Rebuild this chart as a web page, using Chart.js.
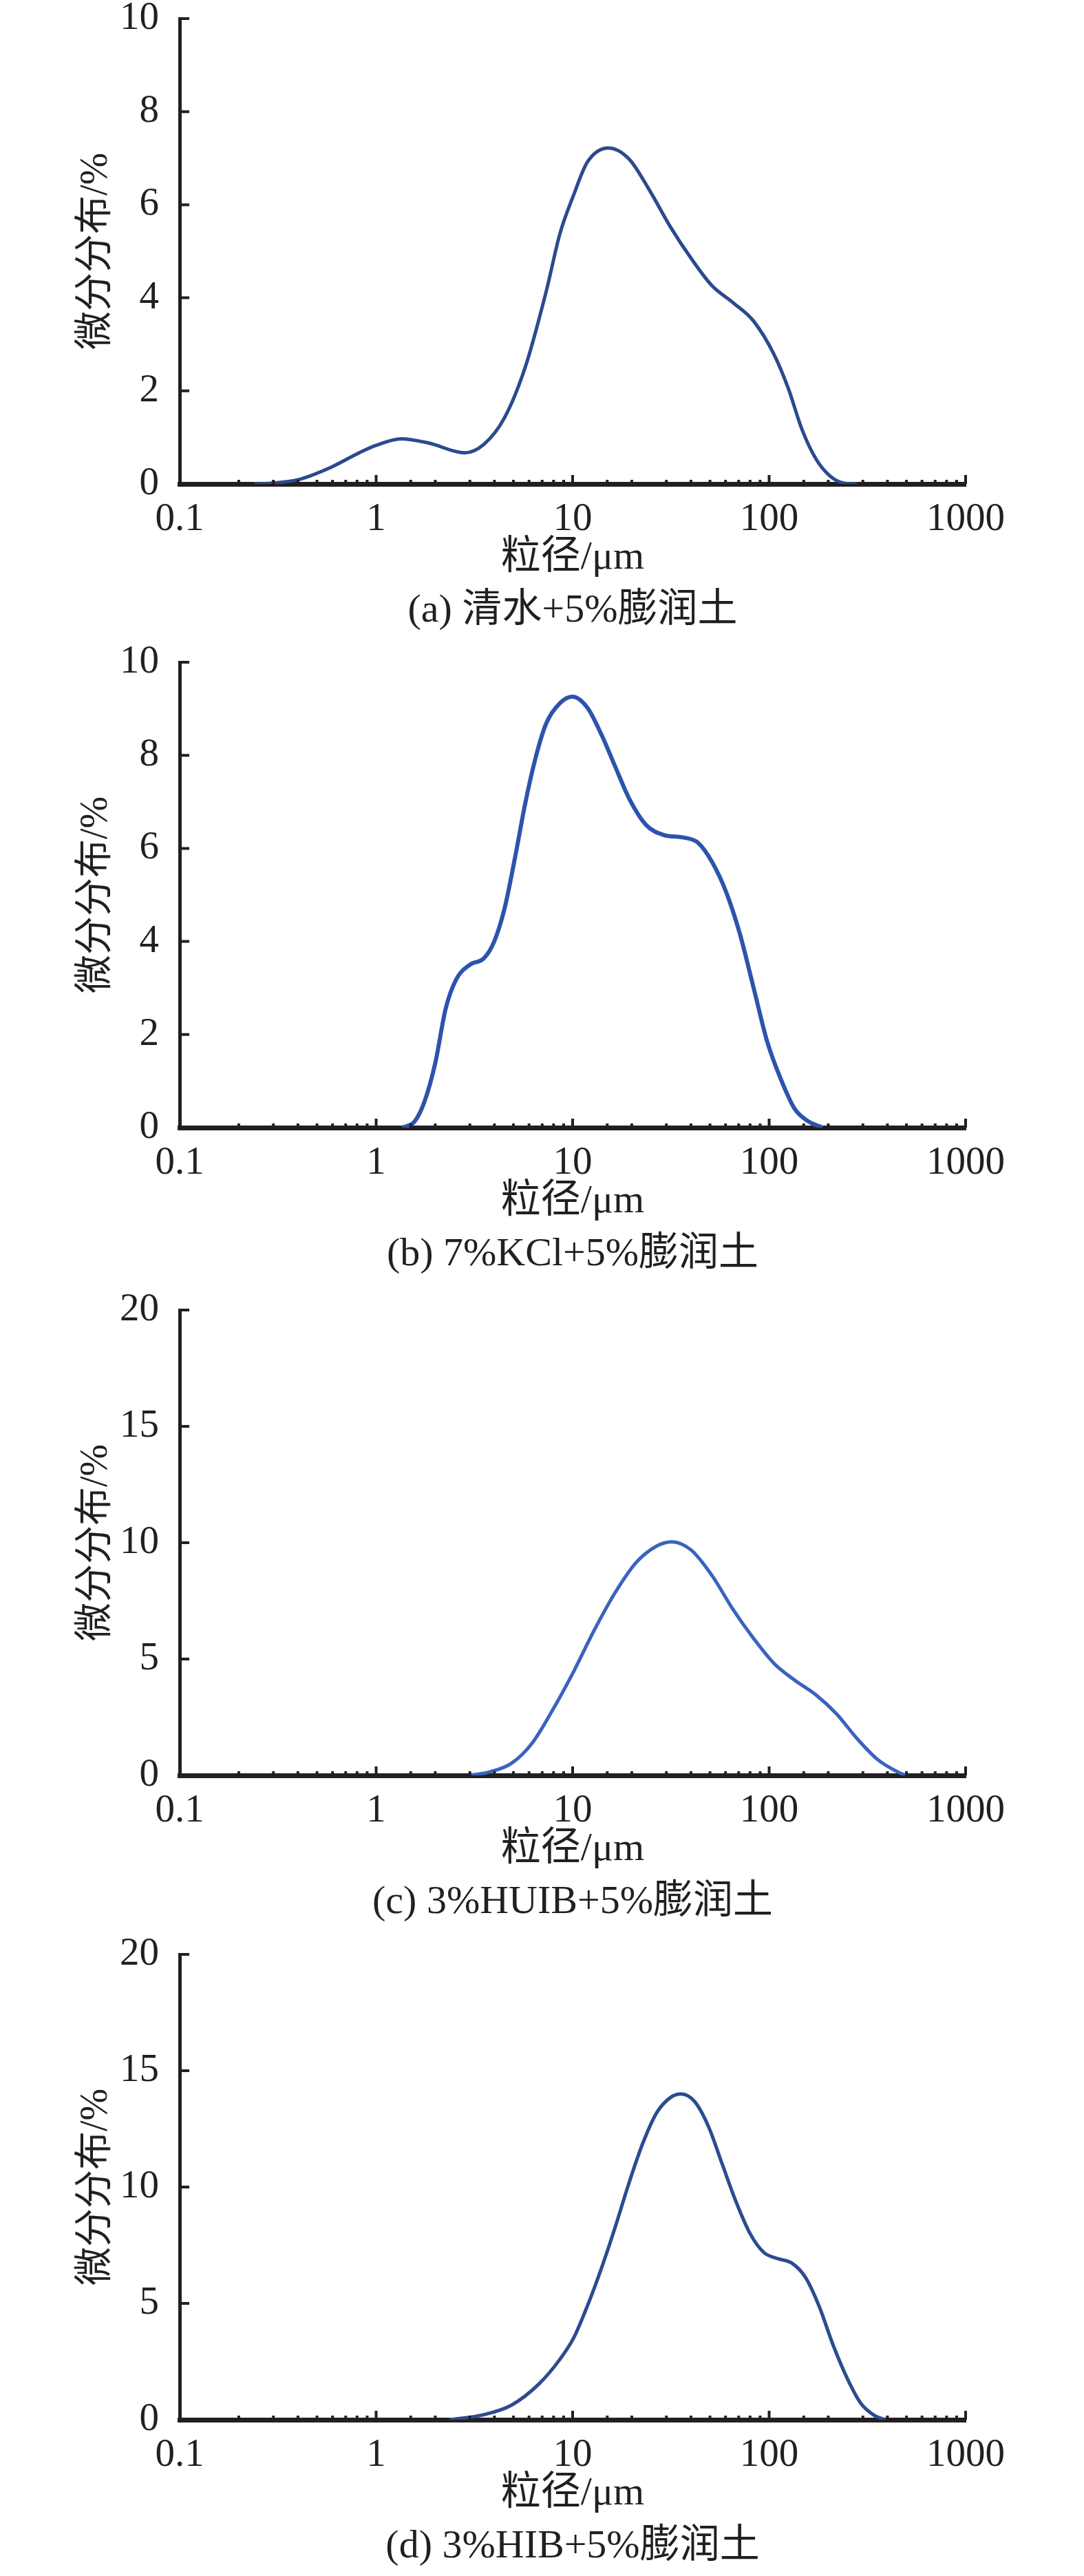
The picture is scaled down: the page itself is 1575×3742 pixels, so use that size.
<!DOCTYPE html>
<html>
<head>
<meta charset="utf-8">
<script src="https://cdn.jsdelivr.net/npm/chart.js@4.4.0/dist/chart.umd.min.js"></script>
<style>
  body { margin: 0; background: #fff; width: 1575px; height: 3742px; position: relative; overflow: hidden; }
  canvas { position: absolute; left: 0; }
</style>
</head>
<body>
<canvas id="chartA" width="1575" height="935" style="top:0px;width:1575px;height:935px"></canvas>
<canvas id="chartB" width="1575" height="935" style="top:935px;width:1575px;height:935px"></canvas>
<canvas id="chartC" width="1575" height="935" style="top:1876px;width:1575px;height:935px"></canvas>
<canvas id="chartD" width="1575" height="935" style="top:2812px;width:1575px;height:935px"></canvas>
<script>
// particle size (um) and differential distribution (%)
const sizesA = [0.24, 0.3, 0.4, 0.59, 0.82, 1.0, 1.34, 1.85, 2.82, 3.53, 4.51, 5.74, 7.33, 8.62, 10.1, 11.9, 15.2, 19.4, 24.7, 31.5, 40.2, 51.2, 65.3, 83.3, 106, 125, 147, 173, 203, 239, 281];
const valuesA = [0, 0.02, 0.09, 0.36, 0.67, 0.83, 0.97, 0.88, 0.67, 0.85, 1.43, 2.51, 4.13, 5.38, 6.2, 6.92, 7.22, 6.98, 6.3, 5.52, 4.84, 4.26, 3.9, 3.5, 2.78, 2.06, 1.17, 0.54, 0.18, 0.02, 0];

const sizesB = [1.36, 1.57, 1.77, 2.0, 2.26, 2.56, 3.0, 3.54, 3.99, 4.51, 5.09, 5.74, 6.49, 7.33, 8.62, 9.97, 11.9, 14.0, 16.5, 19.4, 23.7, 29.0, 37.1, 43.5, 51.2, 60.2, 70.8, 83.3, 97.9, 115, 135, 159, 187];
const valuesB = [0, 0.13, 0.58, 1.39, 2.56, 3.19, 3.5, 3.64, 4.0, 4.72, 5.8, 6.97, 7.96, 8.68, 9.12, 9.26, 9.02, 8.45, 7.75, 7.07, 6.5, 6.29, 6.23, 6.12, 5.71, 5.08, 4.18, 3.01, 1.84, 1.03, 0.40, 0.13, 0];

const sizesC = [3.0, 3.83, 4.89, 6.23, 7.94, 10.1, 12.9, 16.5, 21.0, 26.8, 32.0, 40.2, 51.2, 65.3, 83.3, 106, 135, 173, 220, 281, 358, 456, 495];
const valuesC = [0, 0.16, 0.52, 1.39, 2.83, 4.45, 6.25, 7.87, 9.14, 9.86, 10.04, 9.68, 8.59, 7.15, 5.89, 4.81, 4.09, 3.46, 2.65, 1.57, 0.67, 0.13, 0];

const sizesD = [2.36, 3.54, 4.89, 6.76, 8.62, 10.1, 11.9, 14.0, 16.5, 19.4, 22.8, 26.8, 31.5, 35.6, 41.8, 49.2, 57.8, 68.0, 80.0, 94.0, 111, 130, 153, 180, 211, 249, 292, 344, 388];
const valuesD = [0, 0.22, 0.63, 1.55, 2.6, 3.5, 4.9, 6.5, 8.3, 10.2, 11.9, 13.2, 13.85, 14.0, 13.67, 12.59, 10.97, 9.35, 8.0, 7.19, 6.92, 6.74, 6.12, 4.86, 3.24, 1.8, 0.72, 0.18, 0];

const xTitle = '粒径/μm';
const yTitle = '微分分布/%';
const captions = ['(a) 清水+5%膨润土', '(b) 7%KCl+5%膨润土', '(c) 3%HUIB+5%膨润土', '(d) 3%HIB+5%膨润土'];

const FONT = "'Liberation Serif', 'Noto Sans CJK SC', serif";
const INK = '#231f20';

function isDecade(v) {
    const l = Math.log10(v);
    return Math.abs(l - Math.round(l)) < 1e-6;
}

// inward tick marks like the original figure
const innerTicks = {
    id: 'innerTicks',
    afterDraw(chart) {
        const { ctx, chartArea, scales } = chart;
        ctx.save();
        ctx.strokeStyle = INK;
        ctx.lineWidth = 4;
        ctx.beginPath();
        scales.x.ticks.forEach(t => {
            const px = scales.x.getPixelForValue(t.value);
            const len = isDecade(t.value) ? 13 : 6;
            ctx.moveTo(px, chartArea.bottom);
            ctx.lineTo(px, chartArea.bottom - len);
        });
        scales.y.ticks.forEach(t => {
            const py = scales.y.getPixelForValue(t.value);
            ctx.moveTo(chartArea.left, py);
            ctx.lineTo(chartArea.left + 14, py);
        });
        ctx.stroke();
        ctx.restore();
    }
};

function makePanel(id, sizes, values, yMax, yStep, color, width, caption) {
    const points = sizes.map((s, i) => ({ x: s, y: values[i] }));
    return new Chart(document.getElementById(id), {
        type: 'line',
        data: {
            datasets: [{
                data: points,
                borderColor: color,
                borderWidth: width,
                pointRadius: 0,
                fill: false,
                cubicInterpolationMode: 'monotone',
            }],
        },
        options: {
            responsive: false,
            animation: false,
            devicePixelRatio: 1,
            layout: { padding: { top: 27, right: 172, bottom: 9, left: 0 } },
            plugins: {
                legend: { display: false },
                tooltip: { enabled: false },
            },
            scales: {
                x: {
                    type: 'logarithmic',
                    min: 0.1,
                    max: 1000,
                    grid: { display: false },
                    border: { display: true, color: INK, width: 7 },
                    ticks: {
                        autoSkip: false,
                        maxRotation: 0,
                        padding: 10,
                        color: INK,
                        font: { family: FONT, size: 57 },
                        callback: v => isDecade(v) ? String(v) : '',
                    },
                    // axis title with the panel caption as a second line
                    title: {
                        display: true,
                        text: [xTitle, caption],
                        color: INK,
                        font: { family: FONT, size: 58, lineHeight: 1.32 },
                        padding: { top: 0, bottom: 0 },
                    },
                    afterFit(scale) {
                        scale.height = 223;
                        scale.paddingLeft = 0;
                        scale.paddingRight = 0;
                    },
                },
                y: {
                    min: 0,
                    max: yMax,
                    grid: { display: false },
                    border: { display: true, color: INK, width: 5 },
                    ticks: {
                        stepSize: yStep,
                        padding: 22,
                        color: INK,
                        font: { family: FONT, size: 57 },
                    },
                    title: {
                        display: true,
                        text: yTitle,
                        color: INK,
                        font: { family: FONT, size: 56, lineHeight: 1.2 },
                        padding: { top: 107, bottom: 0 },
                    },
                    afterFit(scale) {
                        scale.width = 261;
                        scale.paddingTop = 0;
                        scale.paddingBottom = 0;
                    },
                },
            },
        },
        plugins: [innerTicks],
    });
}

makePanel('chartA', sizesA, valuesA, 10, 2, '#2b4a8e', 5, captions[0]);
makePanel('chartB', sizesB, valuesB, 10, 2, '#2c54ad', 6, captions[1]);
makePanel('chartC', sizesC, valuesC, 20, 5, '#3a63be', 5, captions[2]);
makePanel('chartD', sizesD, valuesD, 20, 5, '#2c4c90', 5, captions[3]);
</script>
</body>
</html>
